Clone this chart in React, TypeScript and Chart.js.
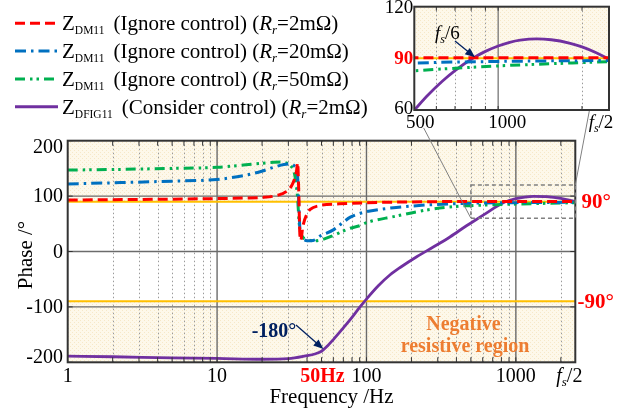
import React, { useEffect, useRef } from "react";
import { Chart, registerables } from "chart.js";
Chart.register(...registerables);

// ---------- data ----------
const freqRed = [1, 2, 5, 10, 15, 20, 25, 29, 32, 34, 34.6, 35.2, 35.7, 36.3, 37.5, 40, 42, 49, 66, 100, 200, 500, 1000, 2500];
const phaseRed = [93, 93.5, 94.5, 95.5, 96.5, 97.5, 101, 108, 122, 145, 160, 110, 40, 20, 45, 68, 76, 83, 86, 88, 89.5, 90.3, 90.4, 90.4];

const freqBlue = [1, 2, 5, 10, 15, 19.4, 24, 28, 31, 33, 34.6, 35.3, 36, 38, 40, 44, 49, 60, 70, 78, 91, 100, 123, 152, 254, 424, 500, 1000, 2500];
const phaseBlue = [122, 124, 127, 130, 137, 144, 152, 157, 158, 154, 135, 80, 35, 22, 19.5, 20, 28, 39, 53, 62, 69, 72, 76, 79, 84, 86.5, 87.2, 88.2, 88.8];

const freqGreen = [1, 2, 5, 10, 15, 19.4, 24, 27, 29, 31, 33, 34.5, 35.5, 37, 40, 44, 50, 60, 70, 78, 91, 100, 152, 254, 424, 500, 1000, 2500];
const phaseGreen = [147, 148, 150, 152, 156, 159, 161, 161.5, 160, 155, 140, 100, 50, 28, 22, 19, 21, 29, 37, 42, 47, 52, 63, 75, 82, 82.8, 85.6, 88.1];

const freqPurple = [1, 2, 5, 10, 20, 30, 40, 45, 50, 55, 60, 70, 80, 90, 100, 120, 144, 170, 217, 280, 364, 470, 608, 700, 811, 900, 1000, 1150, 1318, 1600, 2000, 2300, 2500];
const phasePurple = [-189, -190, -192, -193, -194.5, -193.5, -188, -185, -180, -170, -159, -138, -119, -101, -86, -62, -42, -28, -9.5, 8, 26.7, 47, 66, 77, 87, 92, 95.5, 98.3, 99.5, 99, 96, 92.5, 90];

// purple curve
const insetFreqPurple = [500, 560, 630, 700, 814, 900, 1000, 1100, 1200, 1375, 1550, 1800, 2000, 2250, 2500];
const insetPhasePurple = [60, 68.7, 76.7, 82.9, 90.2, 94.05, 97.2, 99.3, 100.55, 101.3, 100.8, 98.9, 96.7, 93.3, 89.5];

const legendSub = ["DM11", "DM11", "DM11", "DFIG11"];
const legendDesc = ["(Ignore control) (", "(Ignore control) (", "(Ignore control) (", "(Consider control) ("];
const legendR = ["=2mΩ)", "=20mΩ)", "=50mΩ)", "=2mΩ)"];

const yTicksMain = [200, 100, 0, -100, -200];
const xTickVals = [1, 10, 50, 100, 1000, 2500];
const xTickText = ["1", "10", "50Hz", "100", "1000", "fs/2"];
const yTicksInset = [120, 90, 60];
const xTicksInset = [500, 1000, 2500];
const xTicksInsetText = ["500", "1000", "fs/2"];

// ---------- styles ----------
const SERIF = '"Liberation Serif", "Times New Roman", serif';
const RED = "#ff0000";
const BLUE = "#0070c0";
const GREEN = "#00b050";
const PURPLE = "#7030a0";
const YELLOW = "#ffc000";
const NAVY = "#002060";
const ORANGE = "#ed7d31";

const styles = [
  { color: RED, dash: [10, 5], width: 3 },
  { color: BLUE, dash: [11, 5, 2.5, 5], width: 3 },
  { color: GREEN, dash: [10, 5, 2.5, 4, 2.5, 5], width: 3 },
  { color: PURPLE, dash: [], width: 2.8 },
];

// inset placement (page coordinates)
const INSET = { cx: 380, cy: 0, w: 258, h: 140, left: 414.3, right: 609, top: 6.7, bottom: 110 };

function minorFreqs(maxF: number) {
  const out: number[] = [];
  for (let k = 0; k < 4; k++) {
    for (let m = 2; m <= 9; m++) {
      const v = m * Math.pow(10, k);
      if (v < maxF) out.push(v);
    }
  }
  return out;
}

let patternCache: CanvasPattern | null = null;
function cream(ctx: CanvasRenderingContext2D) {
  if (!patternCache) {
    const c = document.createElement("canvas");
    c.width = 4;
    c.height = 4;
    const p = c.getContext("2d")!;
    p.fillStyle = "#fdf8ea";
    p.fillRect(0, 0, 4, 4);
    p.fillStyle = "#f6e8c8";
    p.fillRect(0, 0, 1, 1);
    p.fillRect(2, 2, 1, 1);
    patternCache = ctx.createPattern(c, "repeat");
  }
  return patternCache!;
}

type Seg = { text: string; font: string; color?: string; dy?: number; gap?: number };
function rich(ctx: CanvasRenderingContext2D, segs: Seg[], x: number, y: number, align = "left", color = "#000") {
  let w = 0;
  for (const s of segs) {
    ctx.font = s.font;
    w += ctx.measureText(s.text).width + (s.gap || 0);
  }
  let cx = align === "center" ? x - w / 2 : align === "right" ? x - w : x;
  ctx.textAlign = "left";
  ctx.textBaseline = "alphabetic";
  for (const s of segs) {
    ctx.font = s.font;
    ctx.fillStyle = s.color || color;
    ctx.fillText(s.text, cx, y + (s.dy || 0));
    cx += ctx.measureText(s.text).width + (s.gap || 0);
  }
}

function arrow(ctx: CanvasRenderingContext2D, x1: number, y1: number, x2: number, y2: number, color: string) {
  const a = Math.atan2(y2 - y1, x2 - x1);
  const hl = 10, hw = 4;
  ctx.save();
  ctx.strokeStyle = color;
  ctx.fillStyle = color;
  ctx.lineWidth = 1.3;
  ctx.setLineDash([]);
  ctx.beginPath();
  ctx.moveTo(x1, y1);
  ctx.lineTo(x2 - hl * Math.cos(a) * 0.8, y2 - hl * Math.sin(a) * 0.8);
  ctx.stroke();
  ctx.beginPath();
  ctx.moveTo(x2, y2);
  ctx.lineTo(x2 - hl * Math.cos(a) - hw * Math.sin(a), y2 - hl * Math.sin(a) + hw * Math.cos(a));
  ctx.lineTo(x2 - hl * Math.cos(a) + hw * Math.sin(a), y2 - hl * Math.sin(a) - hw * Math.cos(a));
  ctx.closePath();
  ctx.fill();
  ctx.restore();
}

function fsHalf(size: number): Seg[] {
  return [
    { text: "f", font: `italic ${size}px ${SERIF}` },
    { text: "s", font: `italic ${Math.round(size * 0.65)}px ${SERIF}`, dy: 4 },
    { text: "/2", font: `${size}px ${SERIF}` },
  ];
}

function makeDatasets(purpleF: number[], purpleP: number[]) {
  const fs = [freqRed, freqBlue, freqGreen, purpleF];
  const ps = [phaseRed, phaseBlue, phaseGreen, purpleP];
  return [0, 1, 2, 3].map((i) => ({
    data: fs[i].map((x, j) => ({ x, y: ps[i][j] })),
    borderColor: styles[i].color,
    borderWidth: styles[i].width,
    borderDash: styles[i].dash,
    pointRadius: 0,
    fill: false,
    cubicInterpolationMode: "monotone" as const,
    order: i === 3 ? 4 : i,
  }));
}

const mainPlugin = {
  id: "mainDecor",
  beforeDatasetsDraw(chart: any) {
    const ctx: CanvasRenderingContext2D = chart.ctx;
    const { left, right, top, bottom } = chart.chartArea;
    const xs = chart.scales.x, ys = chart.scales.y;
    ctx.save();
    ctx.fillStyle = "#fff";
    ctx.fillRect(left, top, right - left, bottom - top);
    ctx.fillStyle = cream(ctx);
    const y90 = ys.getPixelForValue(90), yn90 = ys.getPixelForValue(-90);
    ctx.fillRect(left, top, right - left, y90 - top);
    ctx.fillRect(left, yn90, right - left, bottom - yn90);
    ctx.strokeStyle = "#9a9a9a";
    ctx.lineWidth = 1;
    ctx.setLineDash([1.5, 2.5]);
    for (const f of minorFreqs(2500)) {
      const x = Math.round(xs.getPixelForValue(f)) + 0.5;
      ctx.beginPath();
      ctx.moveTo(x, top);
      ctx.lineTo(x, bottom);
      ctx.stroke();
    }
    ctx.setLineDash([]);
    ctx.strokeStyle = "#6b6b6b";
    ctx.lineWidth = 1.4;
    for (const f of [10, 100, 1000]) {
      const x = xs.getPixelForValue(f);
      ctx.beginPath();
      ctx.moveTo(x, top);
      ctx.lineTo(x, bottom);
      ctx.stroke();
    }
    for (const v of [100, 0, -100]) {
      const y = ys.getPixelForValue(v);
      ctx.beginPath();
      ctx.moveTo(left, y);
      ctx.lineTo(right, y);
      ctx.stroke();
    }
    ctx.strokeStyle = YELLOW;
    ctx.lineWidth = 2;
    for (const v of [90, -90]) {
      const y = ys.getPixelForValue(v);
      ctx.beginPath();
      ctx.moveTo(left, y);
      ctx.lineTo(right, y);
      ctx.stroke();
    }
    ctx.restore();
  },
  afterDatasetsDraw(chart: any) {
    const ctx: CanvasRenderingContext2D = chart.ctx;
    const { left, right, top, bottom } = chart.chartArea;
    const xs = chart.scales.x, ys = chart.scales.y;
    ctx.save();
    ctx.strokeStyle = "#333";
    ctx.lineWidth = 1;
    for (const f of [...minorFreqs(2500), 10, 100, 1000]) {
      const x = xs.getPixelForValue(f);
      ctx.beginPath();
      ctx.moveTo(x, bottom);
      ctx.lineTo(x, bottom - 5);
      ctx.moveTo(x, top);
      ctx.lineTo(x, top + 5);
      ctx.stroke();
    }
    for (const v of yTicksMain) {
      const y = ys.getPixelForValue(v);
      ctx.beginPath();
      ctx.moveTo(left, y);
      ctx.lineTo(left + 5, y);
      ctx.moveTo(right, y);
      ctx.lineTo(right - 5, y);
      ctx.stroke();
    }
    ctx.strokeStyle = "#333";
    ctx.lineWidth = 2;
    ctx.strokeRect(left, top, right - left, bottom - top);

    // zoom box
    const bx1 = xs.getPixelForValue(500), bx2 = xs.getPixelForValue(2500);
    const by1 = ys.getPixelForValue(120), by2 = ys.getPixelForValue(60);
    ctx.strokeStyle = "#808080";
    ctx.lineWidth = 1.5;
    ctx.setLineDash([4, 3]);
    ctx.strokeRect(bx1, by1, bx2 - bx1, by2 - by1);
    ctx.setLineDash([]);
    ctx.lineWidth = 1;
    const sx = INSET.left, sy = INSET.bottom;
    const t = (128 - sy) / (by2 - sy);
    ctx.beginPath();
    ctx.moveTo(sx + (bx1 - sx) * t, 128);
    ctx.lineTo(bx1, by2);
    ctx.moveTo(INSET.right, INSET.top);
    ctx.lineTo(bx2, by1);
    ctx.stroke();

    // y tick labels
    ctx.fillStyle = "#000";
    ctx.font = `20px ${SERIF}`;
    ctx.textAlign = "right";
    ctx.textBaseline = "middle";
    for (const v of yTicksMain) {
      let y = ys.getPixelForValue(v);
      y = Math.min(Math.max(y, top + 6), bottom - 6);
      ctx.fillText(String(v), 63, y + 1);
    }
    // x tick labels
    xTickVals.forEach((v, i) => {
      const x = xs.getPixelForValue(v);
      const yb = 382;
      if (xTickText[i] === "fs/2") {
        rich(ctx, fsHalf(20), x - 6, yb, "center");
      } else if (v === 50) {
        ctx.font = `bold 20px ${SERIF}`;
        ctx.fillStyle = RED;
        ctx.textAlign = "center";
        ctx.textBaseline = "alphabetic";
        ctx.fillText(xTickText[i], x + 1, yb);
      } else {
        ctx.font = `20px ${SERIF}`;
        ctx.fillStyle = "#000";
        ctx.textAlign = "center";
        ctx.textBaseline = "alphabetic";
        ctx.fillText(xTickText[i], x, yb);
      }
    });
    ctx.fillStyle = "#000";
    ctx.font = `21px ${SERIF}`;
    ctx.textAlign = "center";
    ctx.textBaseline = "alphabetic";
    ctx.fillText("Frequency /Hz", 331.5, 403);
    ctx.save();
    ctx.translate(32, 255);
    ctx.rotate(-Math.PI / 2);
    ctx.fillText("Phase /°", 0, 0);
    ctx.restore();

    ctx.font = `bold 21px ${SERIF}`;
    ctx.fillStyle = RED;
    ctx.textAlign = "left";
    ctx.textBaseline = "middle";
    ctx.fillText("90°", 581.5, ys.getPixelForValue(90) + 1);
    ctx.fillText("-90°", 577.5, ys.getPixelForValue(-90) + 1);

    ctx.font = `bold 20px ${SERIF}`;
    ctx.fillStyle = ORANGE;
    ctx.textAlign = "center";
    ctx.textBaseline = "alphabetic";
    ctx.fillText("Negative", 463.5, 330);
    ctx.fillText("resistive region", 465, 352);

    ctx.font = `bold 20px ${SERIF}`;
    ctx.fillStyle = NAVY;
    ctx.fillText("-180°", 274, 337);
    arrow(ctx, 296, 325, xs.getPixelForValue(51.5), ys.getPixelForValue(-178) - 1, NAVY);

    // legend
    for (let i = 0; i < 4; i++) {
      const ly = 23.3 + 27.8 * i;
      ctx.strokeStyle = styles[i].color;
      ctx.lineWidth = 3;
      ctx.setLineDash(styles[i].dash);
      ctx.beginPath();
      ctx.moveTo(15, ly);
      ctx.lineTo(58, ly);
      ctx.stroke();
      ctx.setLineDash([]);
      rich(
        ctx,
        [
          { text: "Z", font: `21px ${SERIF}` },
          { text: legendSub[i], font: `11.5px ${SERIF}`, dy: 4, gap: 9 },
          { text: legendDesc[i], font: `21px ${SERIF}` },
          { text: "R", font: `italic 21px ${SERIF}` },
          { text: "r", font: `italic 13px ${SERIF}`, dy: 4 },
          { text: legendR[i], font: `21px ${SERIF}` },
        ],
        62,
        ly + 7
      );
    }
    ctx.restore();
  },
};

const insetPlugin = {
  id: "insetDecor",
  beforeDatasetsDraw(chart: any) {
    const ctx: CanvasRenderingContext2D = chart.ctx;
    const { left, right, top, bottom } = chart.chartArea;
    const xs = chart.scales.x, ys = chart.scales.y;
    ctx.save();
    ctx.fillStyle = "#fff";
    ctx.fillRect(left, top, right - left, bottom - top);
    const y90 = ys.getPixelForValue(90);
    ctx.fillStyle = cream(ctx);
    ctx.fillRect(left, top, right - left, y90 - top);
    ctx.strokeStyle = "#9a9a9a";
    ctx.lineWidth = 1;
    ctx.setLineDash([1.5, 2.5]);
    for (const f of [600, 700, 800, 900, 2000]) {
      const x = Math.round(xs.getPixelForValue(f)) + 0.5;
      ctx.beginPath();
      ctx.moveTo(x, top);
      ctx.lineTo(x, bottom);
      ctx.stroke();
    }
    ctx.setLineDash([]);
    ctx.strokeStyle = "#6b6b6b";
    ctx.lineWidth = 1.2;
    const x1000 = xs.getPixelForValue(1000);
    ctx.beginPath();
    ctx.moveTo(x1000, top);
    ctx.lineTo(x1000, bottom);
    ctx.stroke();
    ctx.strokeStyle = YELLOW;
    ctx.lineWidth = 2;
    ctx.beginPath();
    ctx.moveTo(left, y90);
    ctx.lineTo(right, y90);
    ctx.stroke();
    ctx.restore();
  },
  afterDatasetsDraw(chart: any) {
    const ctx: CanvasRenderingContext2D = chart.ctx;
    const { left, right, top, bottom } = chart.chartArea;
    const xs = chart.scales.x, ys = chart.scales.y;
    ctx.save();
    ctx.strokeStyle = "#333";
    ctx.lineWidth = 1;
    for (const f of [600, 700, 800, 900, 1000, 2000]) {
      const x = xs.getPixelForValue(f);
      ctx.beginPath();
      ctx.moveTo(x, bottom);
      ctx.lineTo(x, bottom - 4);
      ctx.moveTo(x, top);
      ctx.lineTo(x, top + 4);
      ctx.stroke();
    }
    ctx.lineWidth = 2;
    ctx.strokeRect(left, top, right - left, bottom - top);
    ctx.textAlign = "right";
    ctx.textBaseline = "middle";
    for (const v of yTicksInset) {
      let y = ys.getPixelForValue(v);
      y = Math.min(Math.max(y, 7), bottom - 2);
      if (v === 90) {
        ctx.font = `bold 19px ${SERIF}`;
        ctx.fillStyle = RED;
      } else {
        ctx.font = `19px ${SERIF}`;
        ctx.fillStyle = "#000";
      }
      ctx.fillText(String(v), left - 1, y + 1);
    }
    xTicksInset.forEach((v, i) => {
      const x = xs.getPixelForValue(v);
      if (xTicksInsetText[i] === "fs/2") {
        rich(ctx, fsHalf(19), x - 8, 128, "center");
      } else {
        ctx.font = `19px ${SERIF}`;
        ctx.fillStyle = "#000";
        ctx.textAlign = "center";
        ctx.textBaseline = "alphabetic";
        ctx.fillText(xTicksInsetText[i], x + (i === 0 ? 6 : 9), 128);
      }
    });
    rich(
      ctx,
      [
        { text: "f", font: `italic 19px ${SERIF}` },
        { text: "s", font: `italic 12px ${SERIF}`, dy: 4 },
        { text: "/6", font: `19px ${SERIF}` },
      ],
      435 - INSET.cx,
      39
    );
    arrow(ctx, 455 - INSET.cx, 41, xs.getPixelForValue(833) - 1, ys.getPixelForValue(90) - 1, NAVY);
    ctx.restore();
  },
};

export default function App() {
  const mainRef = useRef<HTMLCanvasElement>(null);
  const insetRef = useRef<HTMLCanvasElement>(null);
  useEffect(() => {
    const main = new Chart(mainRef.current!, {
      type: "line",
      data: { datasets: makeDatasets(freqPurple, phasePurple) as any },
      options: {
        responsive: false,
        maintainAspectRatio: false,
        animation: false,
        events: [],
        layout: { padding: { left: 67.7, top: 140.7, right: 62.7, bottom: 46.7 } },
        scales: {
          x: { type: "logarithmic", min: 1, max: 2500, display: false },
          y: { type: "linear", min: -200, max: 200, display: false },
        },
        plugins: { legend: { display: false }, tooltip: { enabled: false } },
      },
      plugins: [mainPlugin],
    });
    const inset = new Chart(insetRef.current!, {
      type: "line",
      data: { datasets: makeDatasets(insetFreqPurple, insetPhasePurple) as any },
      options: {
        responsive: false,
        maintainAspectRatio: false,
        animation: false,
        events: [],
        layout: {
          padding: {
            left: INSET.left - INSET.cx,
            top: INSET.top - INSET.cy,
            right: INSET.cx + INSET.w - INSET.right,
            bottom: INSET.cy + INSET.h - INSET.bottom,
          },
        },
        scales: {
          x: { type: "logarithmic", min: 500, max: 2500, display: false },
          y: { type: "linear", min: 60, max: 120, display: false },
        },
        plugins: { legend: { display: false }, tooltip: { enabled: false } },
      },
      plugins: [insetPlugin],
    });
    return () => {
      main.destroy();
      inset.destroy();
    };
  }, []);
  return (
    <div style={{ position: "fixed", left: 0, top: 0, width: 638, height: 409, background: "#fff" }}>
      <canvas ref={mainRef} width={638} height={409} style={{ position: "absolute", left: 0, top: 0 }} />
      <canvas
        ref={insetRef}
        width={INSET.w}
        height={INSET.h}
        style={{ position: "absolute", left: INSET.cx, top: INSET.cy }}
      />
    </div>
  );
}
